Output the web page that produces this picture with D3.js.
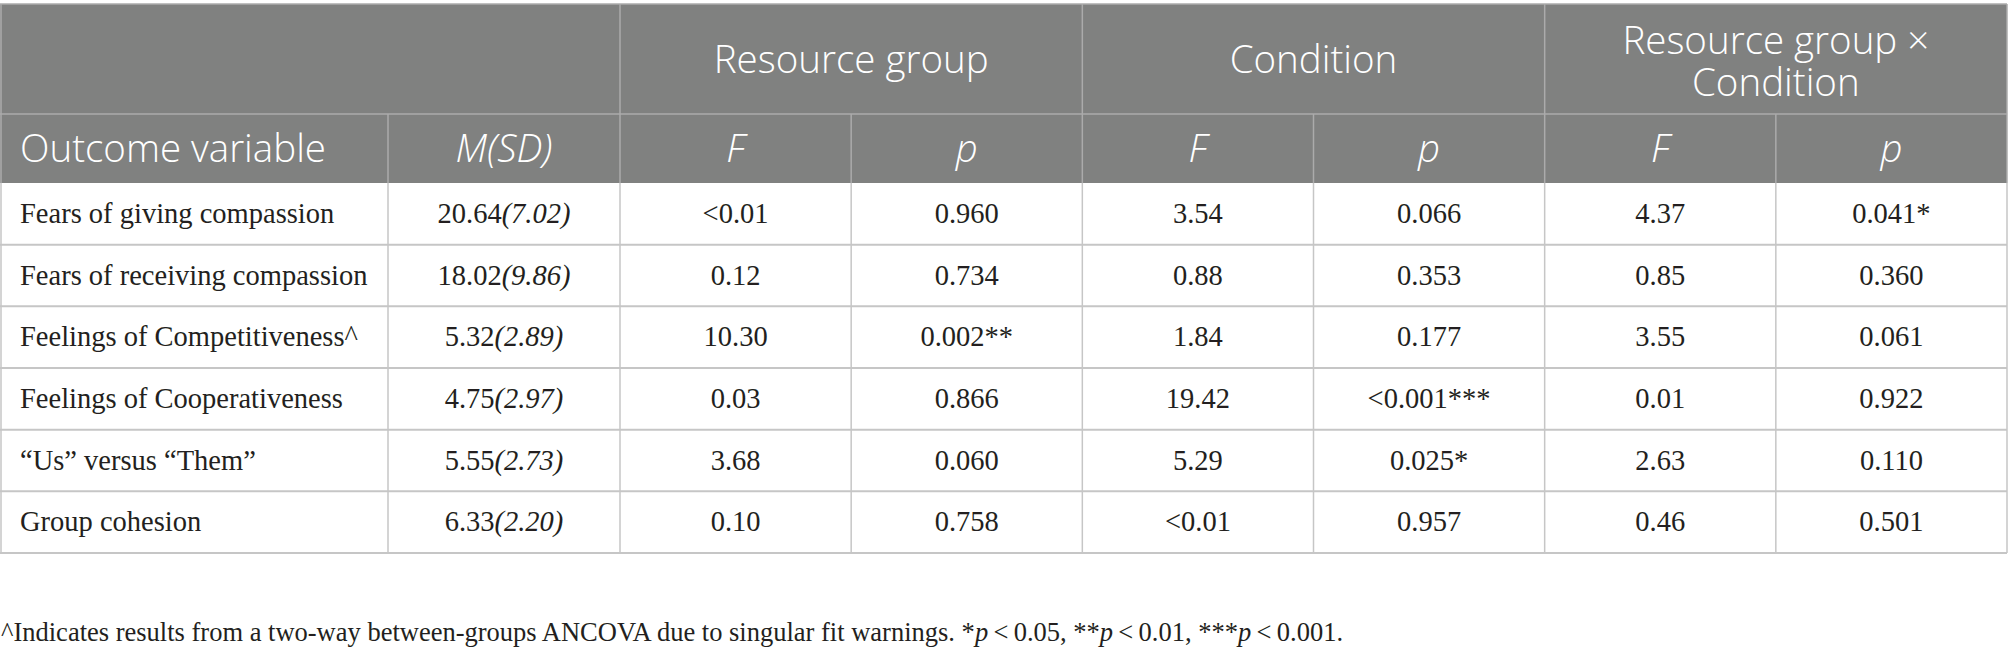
<!DOCTYPE html>
<html><head><meta charset="utf-8">
<script src="https://cdn.jsdelivr.net/npm/d3@7"></script>
<style>html,body{margin:0;padding:0;background:#fff;}svg{display:block;}</style>
</head><body>
<svg id="c" width="2009" height="658"></svg>
<script>
const outcomes = ["Fears of giving compassion","Fears of receiving compassion","Feelings of Competitiveness^","Feelings of Cooperativeness","\u201cUs\u201d versus \u201cThem\u201d","Group cohesion"];
const means = ["20.64","18.02","5.32","4.75","5.55","6.33"];
const sds = ["7.02","9.86","2.89","2.97","2.73","2.20"];
const rgF = ["<0.01","0.12","10.30","0.03","3.68","0.10"];
const rgP = ["0.960","0.734","0.002**","0.866","0.060","0.758"];
const condF = ["3.54","0.88","1.84","19.42","5.29","<0.01"];
const condP = ["0.066","0.353","0.177","<0.001***","0.025*","0.957"];
const intF = ["4.37","0.85","3.55","0.01","2.63","0.46"];
const intP = ["0.041*","0.360","0.061","0.922","0.110","0.501"];
const groups = [["Resource group"],["Condition"],["Resource group \u00d7","Condition"]];
const subHeads = ["F","p","F","p","F","p"];
const footnote = "^Indicates results from a two-way between-groups ANCOVA due to singular fit warnings.";

const svg = d3.select("#c");
const W = 2007, left = 0, c0 = 388, c1 = 620;
const hdrTop = 4, hdr1 = 114, hdr2 = 183, bodyBot = 553;
const serif = "'Liberation Serif', 'DejaVu Serif', serif";
const sans = "'Open Sans', 'Noto Sans', sans-serif";
const hdrBg = "#808180", hdrLine = "#ababab", bodyLine = "#c6c6c6", ink = "#231f20";

const numCols = d3.range(6);
const x = d3.scaleBand().domain(numCols).range([c1, W]);
const rows = d3.range(outcomes.length);
const y = d3.scaleBand().domain(rows).range([hdr2, bodyBot]);

// header background
svg.append("rect").attr("x", left).attr("y", hdrTop).attr("width", W - left).attr("height", hdr2 - hdrTop).attr("fill", hdrBg);

// header lines
const hl = svg.append("g").attr("stroke", hdrLine).attr("stroke-width", 1.5);
hl.append("line").attr("x1", left).attr("x2", W).attr("y1", hdrTop).attr("y2", hdrTop);
hl.append("line").attr("x1", left).attr("x2", W).attr("y1", hdr1).attr("y2", hdr1);
[left + 1, c1, x(2), x(4), W].forEach(v => hl.append("line").attr("x1", v).attr("x2", v).attr("y1", hdrTop).attr("y2", hdr1));
[left + 1, c0, c1, ...numCols.slice(1).map(d => x(d)), W].forEach(v => hl.append("line").attr("x1", v).attr("x2", v).attr("y1", hdr1).attr("y2", hdr2));

// body lines
const bl = svg.append("g").attr("stroke", bodyLine);
rows.forEach(r => bl.append("line").attr("x1", left).attr("x2", W).attr("y1", y(r) + y.bandwidth()).attr("y2", y(r) + y.bandwidth()).attr("stroke-width", 2));
[left + 1, c0, c1, ...numCols.slice(1).map(d => x(d)), W].forEach(v => bl.append("line").attr("x1", v).attr("x2", v).attr("y1", hdr2).attr("y2", bodyBot).attr("stroke-width", 1.5));

// header text
const ht = svg.append("g").attr("fill", "#fff").attr("font-family", sans).attr("font-size", 38.5).attr("font-weight", 300);
groups.forEach((g, i) => {
  const cx = x(i * 2) + x.bandwidth();
  if (g.length === 1) {
    ht.append("text").attr("x", cx).attr("y", (hdrTop + hdr1) / 2 + 14).attr("text-anchor", "middle").text(g[0]);
  } else {
    ht.append("text").attr("x", cx).attr("y", 54).attr("text-anchor", "middle").text(g[0]);
    ht.append("text").attr("x", cx).attr("y", 96).attr("text-anchor", "middle").text(g[1]);
  }
});
const h2y = (hdr1 + hdr2) / 2 + 13;
ht.append("text").attr("x", 20).attr("y", h2y).text("Outcome variable");
ht.append("text").attr("x", (c0 + c1) / 2).attr("y", h2y).attr("text-anchor", "middle").attr("font-style", "italic").text("M(SD)");
subHeads.forEach((s, i) => ht.append("text").attr("x", x(i) + x.bandwidth() / 2).attr("y", h2y).attr("text-anchor", "middle").attr("font-style", "italic").text(s));

// body text
const bt = svg.append("g").attr("fill", ink).attr("font-family", serif).attr("font-size", 28.5);
const cols = [rgF, rgP, condF, condP, intF, intP];
rows.forEach(r => {
  const ty = y(r) + y.bandwidth() / 2 + 9;
  bt.append("text").attr("x", 20).attr("y", ty).text(outcomes[r]);
  const m = bt.append("text").attr("x", (c0 + c1) / 2).attr("y", ty).attr("text-anchor", "middle");
  m.append("tspan").text(means[r]);
  m.append("tspan").text("(" + sds[r] + ")").attr("font-style", "italic");
  cols.forEach((col, i) => bt.append("text").attr("x", x(i) + x.bandwidth() / 2).attr("y", ty).attr("text-anchor", "middle").text(col[r]));
});

// footnote
const fn = svg.append("text").attr("x", 1).attr("y", 641).attr("fill", ink).attr("font-family", serif).attr("font-size", 26.5);
fn.append("tspan").text(footnote + " *");
fn.append("tspan").attr("font-style", "italic").text("p");
fn.append("tspan").text("\u2009<\u20090.05, **");
fn.append("tspan").attr("font-style", "italic").text("p");
fn.append("tspan").text("\u2009<\u20090.01, ***");
fn.append("tspan").attr("font-style", "italic").text("p");
fn.append("tspan").text("\u2009<\u20090.001.");
</script>
</body></html>
